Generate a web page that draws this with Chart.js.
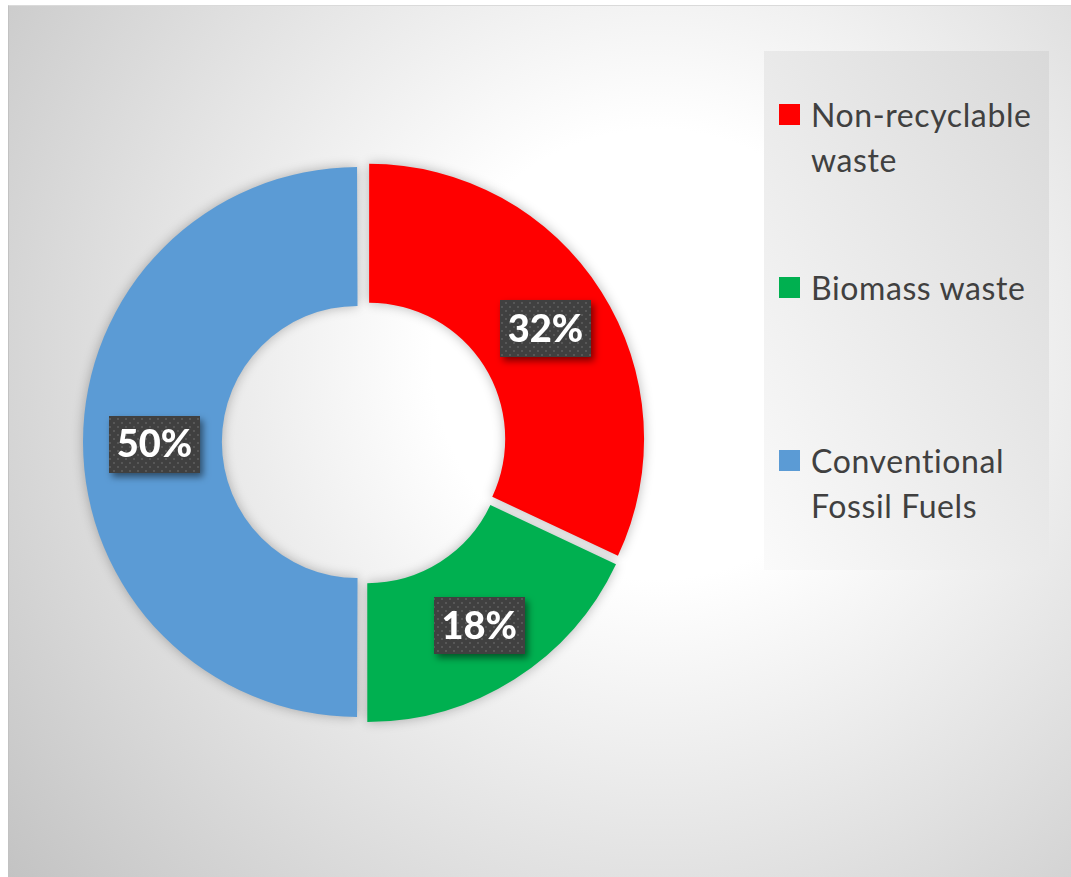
<!DOCTYPE html>
<html>
<head>
<meta charset="utf-8">
<title>Energy sources</title>
<script src="https://cdn.jsdelivr.net/npm/chart.js@4.4.1/dist/chart.umd.min.js"></script>
<style>
    html, body { margin: 0; padding: 0; background: #fff; }
    body { width: 1071px; height: 877px; position: relative; overflow: hidden; font-family: Lato, 'Open Sans', sans-serif; }
    #frame {
        position: absolute; left: 8px; top: 5px; width: 1063px; height: 872px;
        box-sizing: border-box;
        border-top: 1px solid #dadada; border-left: 1px solid #c2c2c2;
        background: radial-gradient(circle farthest-corner at 61% 40%, #fff 0%, #fff 27%, #c3c3c3 100%);
    }
    #chartBox { position: absolute; left: 8px; top: 5px; width: 1063px; height: 872px; }
    #legend {
        position: absolute; left: 764px; top: 51px; width: 285px; height: 519px;
        background: linear-gradient(to top right, #fafafa, #d9d9d9);
    }
    .item { position: absolute; left: 15px; width: 266px; color: #404040; font-size: 32px; letter-spacing: 0.6px; line-height: 45px; }
    .item .box { position: absolute; left: 0; top: 12px; width: 21px; height: 21px; }
    .item .txt { position: absolute; left: 32px; width: 236px; }
</style>
</head>
<body>
<div id="frame"></div>
<div id="chartBox"><canvas id="donut" width="1063" height="872"></canvas></div>
<div id="legend"></div>

<script>
// chart data
const categories = ['Non-recyclable waste', 'Biomass waste', 'Conventional Fossil Fuels'];
const shares = [32, 18, 50];
const sliceColors = ['#FF0000', '#00B050', '#5B9BD5'];

const SLICE_OFFSET = 24; // chart.js translates arcs by offset / 4

// legend on the right, one slot per entry
const legendEl = document.getElementById('legend');
categories.forEach((name, i) => {
    const item = document.createElement('div');
    item.className = 'item';
    item.style.top = (41 + i * 173) + 'px';
    item.innerHTML = `<div class="box" style="background:${sliceColors[i]}"></div><div class="txt">${name}</div>`;
    legendEl.appendChild(item);
});

// keep exploded slices at their own radius (arc.draw grows half-circle arcs by the offset)
const keepRadius = {
    id: 'keepRadius',
    afterDatasetUpdate(chart, args) {
        args.meta.data.forEach(arc => {
            const off = (arc.options.offset || 0) / 4;
            const shift = off * (1 - Math.sin(Math.min(Math.PI, arc.circumference)));
            arc.outerRadius -= shift;
            arc.innerRadius -= shift;
        });
    }
};

// soft shadow under the ring
const ringShadow = {
    id: 'ringShadow',
    beforeDatasetDraw(chart) {
        const ctx = chart.ctx;
        ctx.save();
        ctx.shadowColor = 'rgba(0,0,0,0.28)';
        ctx.shadowBlur = 12;
    },
    afterDatasetDraw(chart) {
        chart.ctx.restore();
    }
};

function dotPattern(ctx) {
    const c = document.createElement('canvas');
    c.width = 8; c.height = 8;
    const p = c.getContext('2d');
    p.fillStyle = '#404040';
    p.fillRect(0, 0, 8, 8);
    p.fillStyle = '#575757';
    p.fillRect(1, 1, 2, 2);
    p.fillRect(5, 5, 2, 2);
    return ctx.createPattern(c, 'repeat');
}

// percentage tags in dark boxes
const percentTags = {
    id: 'percentTags',
    afterDatasetsDraw(chart) {
        const ctx = chart.ctx;
        const meta = chart.getDatasetMeta(0);
        const data = chart.data.datasets[0].data;
        const total = data.reduce((a, b) => a + b, 0);
        const fill = dotPattern(ctx);
        ctx.save();
        ctx.font = '900 38px Lato, "Open Sans", sans-serif';
        meta.data.forEach((arc, i) => {
            const mid = (arc.startAngle + arc.endAngle) / 2;
            const r = (arc.innerRadius + arc.outerRadius) / 2 + (arc.options.offset || 0) / 4 + 4;
            const x = arc.x + Math.cos(mid) * r;
            const y = arc.y + Math.sin(mid) * r + 2;
            const text = Math.round(data[i] / total * 100) + '%';
            const w = 91, h = 57;

            ctx.save();
            ctx.shadowColor = 'rgba(0,0,0,0.5)';
            ctx.shadowBlur = 7;
            ctx.shadowOffsetX = 3;
            ctx.shadowOffsetY = 4;
            ctx.fillStyle = fill;
            ctx.fillRect(Math.round(x - w / 2), Math.round(y - h / 2), w, h);
            ctx.restore();

            ctx.fillStyle = '#ffffff';
            ctx.textAlign = 'center';
            ctx.textBaseline = 'middle';
            ctx.fillText(text, x, y + 1);
        });
        ctx.restore();
    }
};

new Chart(document.getElementById('donut'), {
    type: 'doughnut',
    data: {
        labels: categories,
        datasets: [{
            data: shares,
            backgroundColor: sliceColors,
            borderWidth: 0,
            offset: SLICE_OFFSET
        }]
    },
    options: {
        responsive: false,
        animation: false,
        cutout: '49.5%',
        layout: {
            padding: { left: 69, top: 150, right: 420, bottom: 148 }
        },
        plugins: {
            legend: { display: false },
            tooltip: { enabled: false }
        }
    },
    plugins: [keepRadius, ringShadow, percentTags]
});
</script>
</body>
</html>
